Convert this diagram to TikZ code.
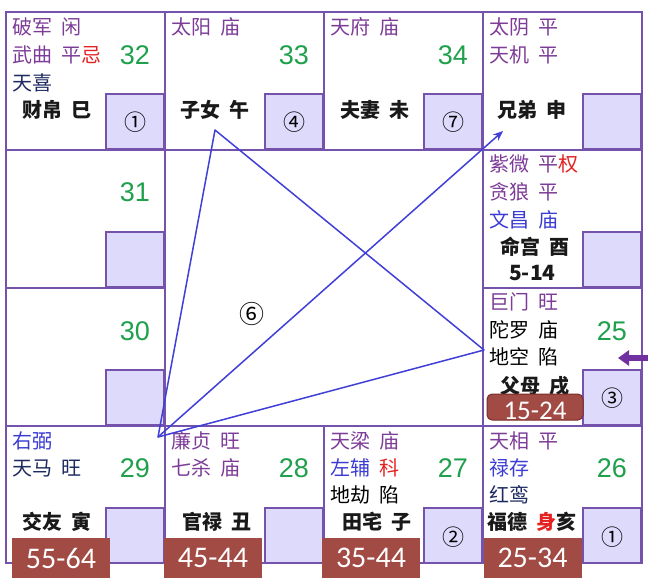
\documentclass[tikz,border=0pt]{standalone}
\usepackage{fontspec}
\setmainfont{Noto Sans CJK SC}
\newfontfamily\numf{Liberation Sans}
\newfontfamily\labf{Carlito}
\usetikzlibrary{arrows.meta}
\newcommand\gp{\hspace{9pt}}
\definecolor{framec}{HTML}{7552AC}
\definecolor{boxc}{HTML}{DDDAFB}
\definecolor{starp}{HTML}{7D3C98}
\definecolor{starb}{HTML}{3C3CD4}
\definecolor{starn}{HTML}{1E2A60}
\definecolor{numg}{HTML}{1FA04C}
\definecolor{redc}{HTML}{E52222}
\definecolor{labred}{HTML}{A24A44}
\definecolor{labedge}{HTML}{7A2E2A}
\definecolor{tric}{HTML}{4040D8}
\definecolor{arrp}{HTML}{7030A0}
\begin{document}
\begin{tikzpicture}[x=1pt,y=-1pt,
  gridl/.style={draw=framec, line width=1.6pt},
  cellbox/.style={fill=boxc, draw=framec, line width=1.6pt},
  st/.style={anchor=west, inner sep=0pt, font=\fontsize{20}{20}\selectfont},
  pal/.style={anchor=west, inner sep=0pt, text=black!90, font=\bfseries\fontsize{20}{20}\selectfont},
  num/.style={anchor=east, inner sep=0pt, text=numg, font=\numf\fontsize{27}{27}\selectfont},
  circ/.style={inner sep=0pt, text=black, font=\fontsize{22}{22}\selectfont},
  lab/.style={fill=labred, text=white, inner sep=0pt, minimum width=98pt, minimum height=40pt, font=\labf\fontsize{30}{30}\selectfont},
  tri/.style={draw=tric, line width=1.5pt, line join=round}
]
\useasboundingbox (0,0) rectangle (648,584);
\fill[white] (0,0) rectangle (648,584);
% boxes
\foreach \bx/\by in {6/12,165/12,324/12,483/12,6/150,6/288,483/150,483/288,6/426,165/426,324/426,483/426}{
  \path[cellbox] (\bx+100,\by+82) rectangle (\bx+158,\by+137);
}
% grid
\draw[gridl, line width=2pt] (6,12) rectangle (642,563);
\draw[gridl] (165,12) -- (165,563);
\draw[gridl] (483,12) -- (483,563);
\draw[gridl] (324,12) -- (324,150);
\draw[gridl] (324,426) -- (324,563);
\draw[gridl] (6,150) -- (642,150);
\draw[gridl] (6,426) -- (642,426);
\draw[gridl] (6,288) -- (165,288);
\draw[gridl] (483,288) -- (642,288);
% top row
\node[st, text=starp] (a1) at (12,27) {破军\gp 闲};
\node[st, text=starp] (a2) at (12,55) {武曲\gp 平\textcolor{redc}{忌}};
\node[st, text=starn] (a3) at (12,83) {天喜};
\node[pal] (ap) at (22,110) {财帛\gp 巳};
\node[num] (an) at (150,55) {32};
\node[circ] (ac) at (135,122) {①};
\node[st, text=starp] (b1) at (171,27) {太阳\gp 庙};
\node[num] (bn) at (309,55) {33};
\node[pal] (bp) at (180,110) {子女\gp 午};
\node[circ] (bc) at (294,122) {④};
\node[st, text=starp] (c1) at (330,27) {天府\gp 庙};
\node[num] (cn) at (468,55) {34};
\node[pal] (cp) at (340,110) {夫妻\gp 未};
\node[circ] (cc) at (453,122) {⑦};
\node[st, text=starp] (d1) at (489,27) {太阴\gp 平};
\node[st, text=starp] (d2) at (489,55) {天机\gp 平};
\node[pal] (dp) at (497,110) {兄弟\gp 申};
% left column
\node[num] (en) at (150,192) {31};
\node[num] (fn) at (150,331) {30};
% right column row 2
\node[st, text=starp] (g1) at (489,164) {紫微\gp 平\textcolor{redc}{权}};
\node[st, text=starp] (g2) at (489,192) {贪狼\gp 平};
\node[st, text=starb] (g3) at (489,220) {文昌\gp 庙};
\node[pal] (gp) at (500,247) {命宫\gp 酉};
\node[pal, font=\bfseries\fontsize{21}{21}\selectfont] (gr) at (509,273) {5-14};
% right column row 3
\node[st, text=starp] (h1) at (489,302) {巨门\gp 旺};
\node[st, text=black] (h2) at (489,330) {陀罗\gp 庙};
\node[num] (hn) at (627,331) {25};
\node[st, text=black] (h3) at (489,357) {地空\gp 陷};
\node[pal] (hp) at (500,386) {父母\gp 戌};
\node[circ] (hc) at (612,398) {③};
\node[fill=labred, draw=labedge, line width=1pt, rounded corners=5pt, minimum width=96pt, minimum height=26pt, inner sep=0pt] (hl) at (535,407) {};
\node[text=white, inner sep=0pt, font=\labf\fontsize{27}{27}\selectfont] (hlt) at (535,411) {15-24};
% bottom row
\node[st, text=starb] (i1) at (12,441) {右弼};
\node[st, text=starn] (i2) at (12,468) {天马\gp 旺};
\node[num] (in) at (150,468) {29};
\node[pal] (ip) at (22,522) {交友\gp 寅};
\node[st, text=starp] (j1) at (171,441) {廉贞\gp 旺};
\node[st, text=starp] (j2) at (171,468) {七杀\gp 庙};
\node[num] (jn) at (309,468) {28};
\node[pal] (jp) at (182,522) {官禄\gp 丑};
\node[st, text=starp] (k1) at (330,441) {天梁\gp 庙};
\node[st, text=starb] (k2) at (330,468) {左辅\gp\textcolor{redc}{科}};
\node[num] (kn) at (468,468) {27};
\node[st, text=black] (k3) at (330,495) {地劫\gp 陷};
\node[pal] (kp) at (342,522) {田宅\gp 子};
\node[circ] (kc) at (453,537) {②};
\node[st, text=starp] (l1) at (489,441) {天相\gp 平};
\node[st, text=starb] (l2) at (489,468) {禄存};
\node[num] (ln) at (627,468) {26};
\node[st, text=starn] (l3) at (489,495) {红鸾};
\node[pal] (lp) at (487,522) {福德\gp\textcolor{redc}{身}亥};
\node[circ] (lc) at (612,537) {①};
% centre
\node[circ, font=\fontsize{25}{25}\selectfont] (six) at (252,314) {⑥};
\coordinate (tA) at (215,130);
\coordinate (tB) at (158,437);
\coordinate (tC) at (484,350);
\coordinate (tD) at (503,131);
\draw[tri] (tA) -- (tC) -- (tB) -- cycle;
\draw[tri, -{Stealth[length=10pt,width=8pt]}] (tB) -- (tD);
% purple arrow
\coordinate (pR) at (648,358);
\coordinate (pL) at (618,358);
\draw[draw=arrp, line width=6pt, -{Triangle[length=11pt,width=15pt]}] (pR) -- (pL);
% labels
\node[lab] (L1) at (61,558) {55-64};
\node[lab] (L2) at (213,558) {45-44};
\node[lab] (L3) at (371,558) {35-44};
\node[lab] (L4) at (532.5,558) {25-34};
\end{tikzpicture}
\end{document}
